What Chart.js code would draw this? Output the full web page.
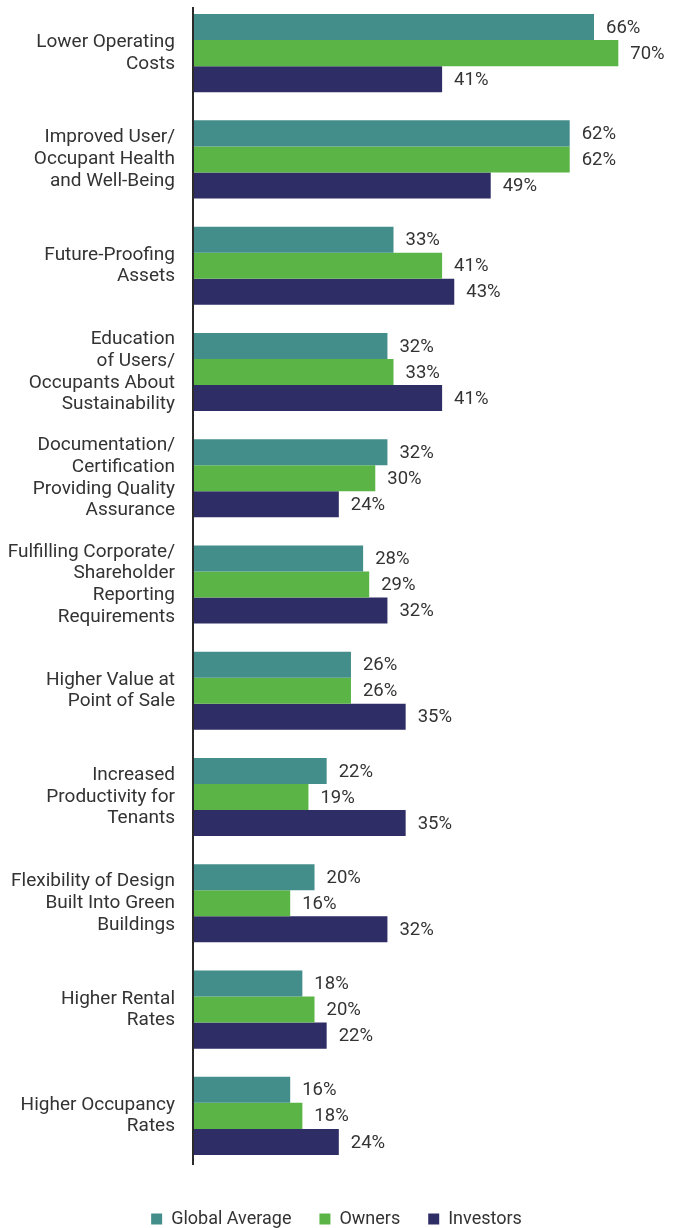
<!DOCTYPE html>
<html>
<head>
<meta charset="utf-8">
<script src="https://cdn.jsdelivr.net/npm/chart.js@4.4.1/dist/chart.umd.min.js"></script>
<style>
  html, body { margin: 0; padding: 0; background: #ffffff; overflow: hidden; }
  #wrap { position: relative; width: 673px; height: 1238px; }
</style>
</head>
<body>
<div id="wrap"><canvas id="c"></canvas></div>
<script>
const categories = [
  ["Lower Operating", "Costs"],
  ["Improved User/", "Occupant Health", "and Well-Being"],
  ["Future-Proofing", "Assets"],
  ["Education", "of Users/", "Occupants About", "Sustainability"],
  ["Documentation/", "Certification", "Providing Quality", "Assurance"],
  ["Fulfilling Corporate/", "Shareholder", "Reporting", "Requirements"],
  ["Higher Value at", "Point of Sale"],
  ["Increased", "Productivity for", "Tenants"],
  ["Flexibility of Design", "Built Into Green", "Buildings"],
  ["Higher Rental", "Rates"],
  ["Higher Occupancy", "Rates"]
];
const globalAverage = [66, 62, 33, 32, 32, 28, 26, 22, 20, 18, 16];
const owners        = [70, 62, 41, 33, 30, 29, 26, 19, 16, 20, 18];
const investors     = [41, 49, 43, 41, 24, 32, 35, 35, 32, 22, 24];
const seriesNames = ["Global Average", "Owners", "Investors"];
const seriesColors = ["#438e8a", "#5bb446", "#2e2d66"];
const xMax = 79;

const FONT = "Roboto, 'Noto Sans', sans-serif";
const TEXT = "#333333";

const valueLabels = {
  id: 'valueLabels',
  afterDatasetsDraw(chart) {
    const ctx = chart.ctx;
    const area = chart.chartArea;
    ctx.save();
    // vertical axis line drawn over the bar roots
    ctx.strokeStyle = '#2b2b2b';
    ctx.lineWidth = 2;
    ctx.beginPath();
    ctx.moveTo(area.left, area.top + 7);
    ctx.lineTo(area.left, area.bottom - 4);
    ctx.stroke();
    ctx.font = "18.5px " + FONT;
    ctx.fillStyle = TEXT;
    ctx.textAlign = 'left';
    ctx.textBaseline = 'middle';
    chart.data.datasets.forEach((ds, di) => {
      const meta = chart.getDatasetMeta(di);
      meta.data.forEach((bar, i) => {
        ctx.fillText(ds.data[i] + '%', bar.x + 12, bar.y + 1);
      });
    });
    ctx.restore();
  }
};

new Chart(document.getElementById('c'), {
  type: 'bar',
  data: {
    labels: categories,
    datasets: [
      { label: seriesNames[0], data: globalAverage, backgroundColor: seriesColors[0] },
      { label: seriesNames[1], data: owners, backgroundColor: seriesColors[1] },
      { label: seriesNames[2], data: investors, backgroundColor: seriesColors[2] }
    ]
  },
  options: {
    indexAxis: 'y',
    responsive: true,
    maintainAspectRatio: false,
    animation: false,
    devicePixelRatio: 1,
    layout: { padding: { top: 0, right: 0, bottom: 0, left: 0 } },
    datasets: { bar: { categoryPercentage: 0.735, barPercentage: 1.0, borderWidth: 0 } },
    scales: {
      x: {
        display: true,
        min: 0,
        max: xMax,
        grid: { display: false },
        border: { display: false },
        ticks: { display: false },
        afterFit(scale) { scale.height = 13; }
      },
      y: {
        grid: { display: false, drawTicks: false },
        border: { display: false },
        ticks: {
          color: TEXT,
          padding: 18,
          autoSkip: false,
          font: { family: FONT, size: 19, lineHeight: 1.14 }
        },
        afterFit(scale) {
          scale.width = 193;
          scale.paddingTop = 0;
          scale.paddingBottom = 0;
        }
      }
    },
    plugins: {
      legend: {
        position: 'bottom',
        labels: {
          boxWidth: 11,
          boxHeight: 11,
          padding: 28,
          color: TEXT,
          font: { family: FONT, size: 18 }
        }
      },
      tooltip: { enabled: false }
    }
  },
  plugins: [valueLabels]
});
</script>
</body>
</html>
